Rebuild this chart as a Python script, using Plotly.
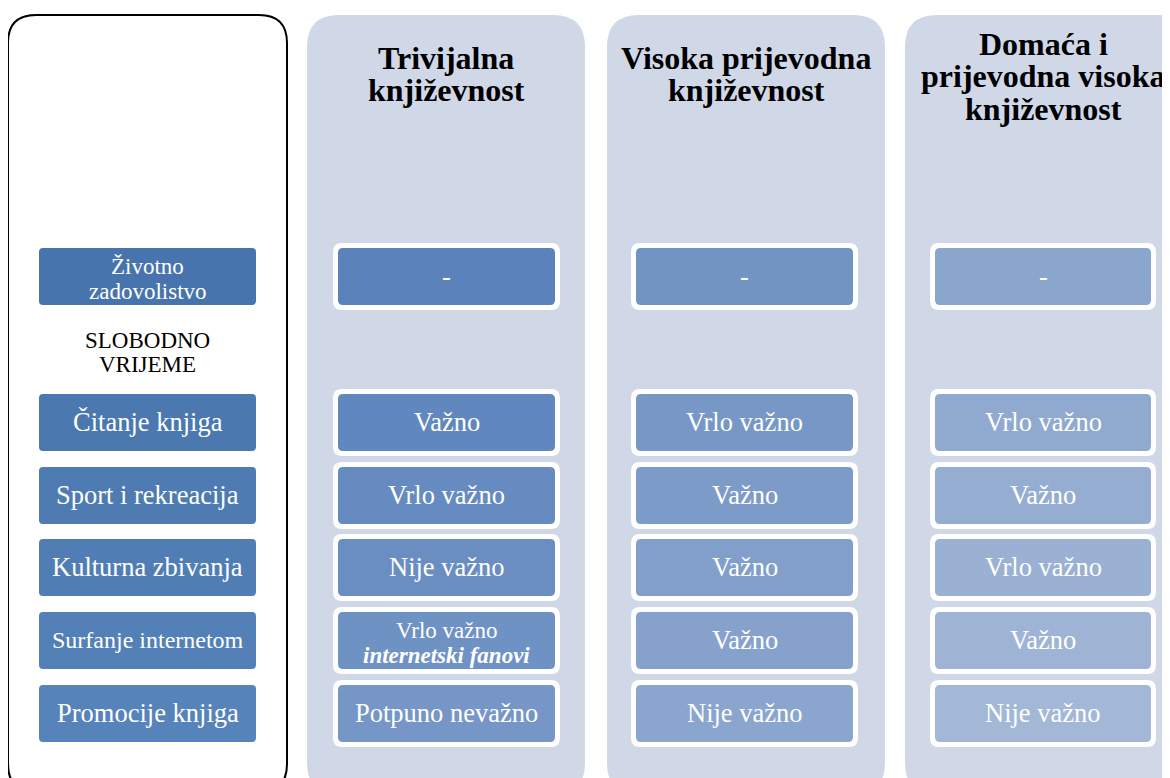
import plotly.graph_objects as go

# ---- data ----
categories = ["Životno<br>zadovolistvo", "Čitanje knjiga", "Sport i rekreacija",
              "Kulturna zbivanja", "Surfanje internetom", "Promocije knjiga"]
section_label = "SLOBODNO<br>VRIJEME"
column_titles = ["Trivijalna<br>književnost", "Visoka prijevodna<br>književnost",
                 "Domaća i<br>prijevodna visoka<br>književnost"]
trivijalna = ["-", "Važno", "Vrlo važno", "Nije važno",
              "Vrlo važno<br><b><i>internetski fanovi</i></b>", "Potpuno nevažno"]
visoka_prijevodna = ["-", "Vrlo važno", "Važno", "Važno", "Važno", "Nije važno"]
domaca_prijevodna = ["-", "Vrlo važno", "Važno", "Vrlo važno", "Važno", "Nije važno"]
columns = [trivijalna, visoka_prijevodna, domaca_prijevodna]

# ---- styles / layout ----
W, H = 1170, 778
OFF = 8  # page body margin compensation
row_y = [248, 394, 467, 539, 612, 685]
box_h = 57
left_box_x = (39, 256)
panel_x = [(307, 585), (607, 885), (905, 1195)]
inner_x = [(338, 555), (636, 853), (935, 1151)]
left_colors = ["#4774AC", "#4A78AF", "#4D7BB2", "#507EB4", "#5381B7", "#5684BA"]
col_colors = [
    ["#5B82BA", "#6188BE", "#668BC0", "#6A8EC2", "#6F92C4", "#7596C6"],
    ["#7194C3", "#7798C6", "#7C9BC8", "#819FCA", "#86A2CC", "#8AA5CE"],
    ["#8AA6CD", "#90AACF", "#95ADD1", "#9AB1D3", "#9FB4D5", "#A3B7D7"],
]
label_sizes = [23, 26.5, 26.5, 26.5, 24, 26.5]
SERIF = "Liberation Serif, Times New Roman, serif"


def rrect(x0, y0, x1, y1, r):
    return (f"M {x0+r},{y0} L {x1-r},{y0} Q {x1},{y0} {x1},{y0+r} "
            f"L {x1},{y1-r} Q {x1},{y1} {x1-r},{y1} L {x0+r},{y1} "
            f"Q {x0},{y1} {x0},{y1-r} L {x0},{y0+r} Q {x0},{y0} {x0+r},{y0} Z")


shapes = []
annotations = []


def add_text(cx, cy, text, size, color, spacing):
    lines = text.split("<br>")
    n = len(lines)
    for k, ln in enumerate(lines):
        annotations.append(dict(x=cx, y=cy + (k - (n - 1) / 2) * spacing, text=ln,
                                showarrow=False, xanchor="center", yanchor="middle",
                                font=dict(family=SERIF, size=size, color=color)))


# left frame
shapes.append(dict(type="path", path=rrect(8, 15, 287, 792, 28),
                   line=dict(color="black", width=2), fillcolor="white", layer="below"))
# panels
for (x0, x1) in panel_x:
    shapes.append(dict(type="path", path=rrect(x0, 15, x1, 795, 32),
                       line=dict(width=0), fillcolor="#D0D8E8", layer="below"))

# left category boxes
for i, cat in enumerate(categories):
    y0 = row_y[i]
    dy = 2 if "<br>" in cat else -1
    shapes.append(dict(type="path", path=rrect(left_box_x[0], y0, left_box_x[1], y0 + box_h, 4),
                       line=dict(width=0), fillcolor=left_colors[i]))
    add_text((left_box_x[0] + left_box_x[1]) / 2, y0 + box_h / 2 + dy, cat,
             label_sizes[i], "white", 25)

add_text((left_box_x[0] + left_box_x[1]) / 2, 352, section_label, 23, "black", 24)

# column titles
title_centers = [(446, 74), (746, 74), (1043, 76)]
for c, t in enumerate(column_titles):
    cx, cy = title_centers[c]
    add_text(cx, cy, "<b>" + t.replace("<br>", "</b><br><b>") + "</b>", 32, "black", 32.5)

# column boxes
for c, vals in enumerate(columns):
    x0, x1 = inner_x[c]
    for i, v in enumerate(vals):
        y0 = row_y[i]
        shapes.append(dict(type="path", path=rrect(x0 - 5, y0 - 5, x1 + 5, y0 + box_h + 5, 9),
                           line=dict(width=0), fillcolor="white"))
        shapes.append(dict(type="path", path=rrect(x0, y0, x1, y0 + box_h, 5),
                           line=dict(width=0), fillcolor=col_colors[c][i]))
        two = "<br>" in v
        size = 23 if two else 26.5
        add_text((x0 + x1) / 2, y0 + box_h / 2 + (2 if two else -1), v, size, "white", 25)

fig = go.Figure()
fig.add_trace(go.Scatter(x=[OFF, W + OFF], y=[OFF, H + OFF], mode="markers",
                         marker=dict(opacity=0), hoverinfo="skip", showlegend=False))
fig.update_layout(
    width=W, height=H, margin=dict(l=0, r=0, t=0, b=0),
    paper_bgcolor="white", plot_bgcolor="white",
    xaxis=dict(range=[OFF, W + OFF], visible=False, fixedrange=True),
    yaxis=dict(range=[H + OFF, OFF], visible=False, fixedrange=True),
    shapes=shapes, annotations=annotations, showlegend=False,
)
fig.write_html("out.html")
